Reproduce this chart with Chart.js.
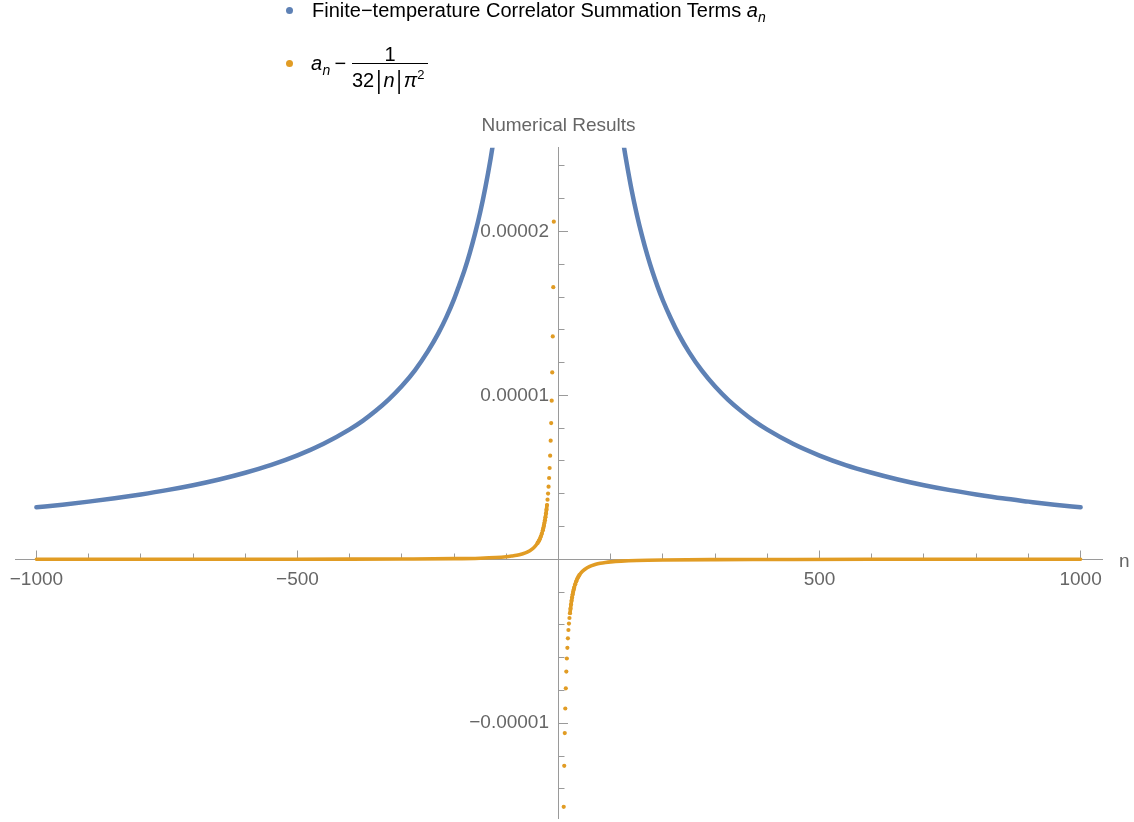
<!DOCTYPE html>
<html><head><meta charset="utf-8">
<script src="https://cdn.jsdelivr.net/npm/chart.js@4.4.1/dist/chart.umd.min.js"></script>
<style>
html,body{margin:0;padding:0;background:#fff;}
body{width:1134px;height:822px;overflow:hidden;position:relative;font-family:'Liberation Sans',Arial,sans-serif;}
#c{position:absolute;left:0;top:0;}
.t{position:absolute;white-space:nowrap;line-height:1;color:#000;}
.dot{position:absolute;border-radius:50%;width:7px;height:7px;}
</style></head><body>
<canvas id="c" width="1134" height="822"></canvas>

<div class="dot" style="left:285.5px;top:6.5px;background:#5E81B5"></div>
<div class="t" style="left:312px;top:0.4px;font-size:20px">Finite−temperature Correlator Summation Terms <i>a</i><span style="font-size:14px;font-style:italic;position:relative;top:5px">n</span></div>

<div class="dot" style="left:285.5px;top:59.8px;background:#E19C24"></div>
<div class="t" style="left:311px;top:53.1px;font-size:20px;font-style:italic">a</div>
<div class="t" style="left:322.5px;top:63.1px;font-size:14px;font-style:italic">n</div>
<div class="t" style="left:334.5px;top:53.1px;font-size:20px">−</div>
<div style="position:absolute;left:352px;top:62.8px;width:76px;height:1.2px;background:#000"></div>
<div class="t" style="left:384.4px;top:43.6px;font-size:20px">1</div>
<div class="t" style="left:352px;top:69.6px;font-size:20px">32<span style="margin:0 2px;display:inline-block;transform:scaleY(1.3);transform-origin:50% 60%">|</span><i>n</i><span style="margin:0 2px;display:inline-block;transform:scaleY(1.3);transform-origin:50% 60%">|</span><i>π</i><span style="font-size:13px;position:relative;top:-8px">2</span></div>

<div class="t" style="left:1119px;top:551px;font-size:19px;color:#666">n</div>

<script>
// ---- data ----
// Series 1: finite-temperature correlator summation terms a_n (blue)
const blueN = [-1000,-950,-900,-850,-800,-750,-700,-650,-600,-550,-500,-450,-400,-375,-350,-325,-300,-275,-250,-230,-215,-200,-190,-180,-170,-160,-150,-140,-130,-125,-120,-115,-110,
  0,
  110,115,120,125,130,140,150,160,170,180,190,200,215,230,250,275,300,325,350,375,400,450,500,550,600,650,700,750,800,850,900,950,1000];
const blueA = [3.17e-6,3.33e-6,3.52e-6,3.73e-6,3.96e-6,4.22e-6,4.52e-6,4.87e-6,5.28e-6,5.76e-6,6.34e-6,7.05e-6,7.93e-6,8.45e-6,9.06e-6,9.76e-6,10.57e-6,11.53e-6,12.70e-6,13.80e-6,14.76e-6,15.87e-6,16.74e-6,17.64e-6,18.68e-6,19.85e-6,21.17e-6,22.70e-6,24.45e-6,25.43e-6,26.50e-6,27.66e-6,28.92e-6,
  null,
  28.70e-6,27.44e-6,26.30e-6,25.23e-6,24.28e-6,22.54e-6,21.04e-6,19.73e-6,18.57e-6,17.54e-6,16.62e-6,15.79e-6,14.71e-6,13.74e-6,12.64e-6,11.49e-6,10.54e-6,9.73e-6,9.04e-6,8.43e-6,7.91e-6,7.03e-6,6.33e-6,5.75e-6,5.28e-6,4.87e-6,4.52e-6,4.22e-6,3.96e-6,3.72e-6,3.52e-6,3.33e-6,3.17e-6];

// Series 2: a_n - 1/(32|n|pi^2) (orange), separated points near n = 0
const orangeDotN = [-40,-38,-36,-34,-32,-30,-29,-28,-27,-26,-25,-24,-23,-22,-21,-20,-19,-18,-17,-16,-15,-14,-13,-12,-11,-10,-9,
  10,11,12,13,14,15,16,17,18,19,20,21,22,23,24,25,26,27,28,29,30,32,34,36,38,40];
const orangeDotA = [1.00e-6,1.11e-6,1.23e-6,1.38e-6,1.56e-6,1.78e-6,1.91e-6,2.05e-6,2.21e-6,2.38e-6,2.57e-6,2.79e-6,3.03e-6,3.31e-6,3.64e-6,4.01e-6,4.43e-6,4.96e-6,5.57e-6,6.32e-6,7.24e-6,8.31e-6,9.68e-6,11.4e-6,13.6e-6,16.6e-6,20.6e-6,
  -15.1e-6,-12.6e-6,-10.6e-6,-9.1e-6,-7.87e-6,-6.85e-6,-6.05e-6,-5.40e-6,-4.82e-6,-4.31e-6,-3.92e-6,-3.58e-6,-3.29e-6,-3.01e-6,-2.76e-6,-2.52e-6,-2.33e-6,-2.15e-6,-2.00e-6,-1.86e-6,-1.73e-6,-1.52e-6,-1.34e-6,-1.19e-6,-1.07e-6,-0.96e-6];
// Series 2: dense part of the orange points (far from n = 0)
const orangeBandN = [-1000,-800,-600,-400,-300,-200,-150,-120,-100,-90,-80,-70,-60,-50,-45,-40,-36,-33,-30,-28,-26,-24,-22,
  0,
  22,24,26,28,30,33,36,40,45,50,60,70,80,90,100,120,150,200,300,400,600,800,1000];
const orangeBandA = [0.0,0.0,0.005e-6,0.01e-6,0.02e-6,0.04e-6,0.07e-6,0.11e-6,0.16e-6,0.20e-6,0.25e-6,0.33e-6,0.44e-6,0.64e-6,0.79e-6,1.00e-6,1.23e-6,1.47e-6,1.78e-6,2.05e-6,2.38e-6,2.79e-6,3.31e-6,
  null,
  -3.29e-6,-2.76e-6,-2.33e-6,-2.00e-6,-1.73e-6,-1.42e-6,-1.19e-6,-0.96e-6,-0.76e-6,-0.62e-6,-0.43e-6,-0.32e-6,-0.24e-6,-0.19e-6,-0.155e-6,-0.11e-6,-0.07e-6,-0.04e-6,-0.017e-6,-0.01e-6,0.0,0.0,0.0];

// ticks
const xMajorTicks = [-1000,-500,500,1000];
const xTickLabels = ['−1000','−500','500','1000'];
const xMinorTicks = [-900,-800,-700,-600,-400,-300,-200,-100,100,200,300,400,600,700,800,900];
const yMajorTicks = [-0.00001,0.00001,0.00002];
const yTickLabels = ['−0.00001','0.00001','0.00002'];
const yMinorTicks = [-14e-6,-12e-6,-8e-6,-6e-6,-4e-6,-2e-6,2e-6,4e-6,6e-6,8e-6,12e-6,14e-6,16e-6,18e-6,22e-6,24e-6];
const yMin = -15.78e-6, yMax = 25.11e-6;

const FONT = "'Liberation Sans', Arial, sans-serif";
const AXIS = '#9a9a9a';
const LABEL = '#666666';
const pts = (xs, ys) => xs.map((x, i) => ({x: x, y: ys[i]}));
// axes drawn through the origin: they take no room from the plot area
const noRoomX = s => { s.height = 0; s.paddingLeft = 0; s.paddingRight = 0; s.paddingTop = 0; s.paddingBottom = 0; };
const noRoomY = s => { s.width = 0; s.paddingLeft = 0; s.paddingRight = 0; s.paddingTop = 0; s.paddingBottom = 0; };

new Chart(document.getElementById('c'), {
  type: 'scatter',
  data: {
    datasets: [
      {data: pts(orangeDotN, orangeDotA), showLine: false, pointRadius: 2.1, pointBorderWidth: 0,
       pointBackgroundColor: '#E19C24', borderColor: '#E19C24', backgroundColor: '#E19C24'},
      {data: pts(orangeBandN, orangeBandA), showLine: true, pointRadius: 0, borderColor: '#E19C24',
       borderWidth: 3.6, borderCapStyle: 'round', cubicInterpolationMode: 'monotone', spanGaps: false},
      {data: pts(blueN, blueA), showLine: true, pointRadius: 0, borderColor: '#5E81B5',
       borderWidth: 4.5, borderCapStyle: 'round', borderJoinStyle: 'round', cubicInterpolationMode: 'monotone', spanGaps: false}
    ]
  },
  options: {
    responsive: false, animation: false, devicePixelRatio: 1, events: [],
    layout: {padding: {top: 114.6, left: 15, right: 32, bottom: 0}},
    plugins: {
      legend: {display: false},
      tooltip: {enabled: false},
      title: {display: true, text: 'Numerical Results', color: LABEL,
              font: {family: FONT, size: 19, weight: 'normal'}, padding: {top: 0, bottom: 10.3}}
    },
    scales: {
      x: {type: 'linear', axis: 'x', min: -1041, max: 1041, position: {y: 0},
          afterBuildTicks: s => { s.ticks = xMajorTicks.map(v => ({value: v})); },
          afterFit: noRoomX,
          ticks: {callback: (v, i) => xTickLabels[i], color: LABEL, font: {family: FONT, size: 19},
                  padding: 18.5, maxRotation: 0, autoSkip: false},
          grid: {drawOnChartArea: false, drawTicks: true, tickLength: -9.5, tickColor: AXIS, tickWidth: 1},
          border: {display: true, color: AXIS, width: 1}},
      xm: {type: 'linear', axis: 'x', min: -1041, max: 1041, position: {y: 0},
          afterBuildTicks: s => { s.ticks = xMinorTicks.map(v => ({value: v})); },
          afterFit: noRoomX,
          ticks: {callback: () => '', autoSkip: false},
          grid: {drawOnChartArea: false, drawTicks: true, tickLength: -5.5, tickColor: AXIS, tickWidth: 1},
          border: {display: false}},
      y: {type: 'linear', axis: 'y', min: yMin, max: yMax, position: 'center',
          afterBuildTicks: s => { s.ticks = yMajorTicks.map(v => ({value: v})); },
          afterFit: noRoomY,
          ticks: {callback: (v, i) => yTickLabels[i], color: LABEL, font: {family: FONT, size: 19},
                  padding: 19.5, autoSkip: false},
          grid: {drawOnChartArea: false, drawTicks: true, tickLength: -10, tickColor: AXIS, tickWidth: 1},
          border: {display: true, color: AXIS, width: 1}},
      ym: {type: 'linear', axis: 'y', min: yMin, max: yMax, position: 'center',
          afterBuildTicks: s => { s.ticks = yMinorTicks.map(v => ({value: v})); },
          afterFit: noRoomY,
          ticks: {callback: () => '', autoSkip: false},
          grid: {drawOnChartArea: false, drawTicks: true, tickLength: -5.5, tickColor: AXIS, tickWidth: 1},
          border: {display: false}}
    }
  }
});
</script>
</body></html>
